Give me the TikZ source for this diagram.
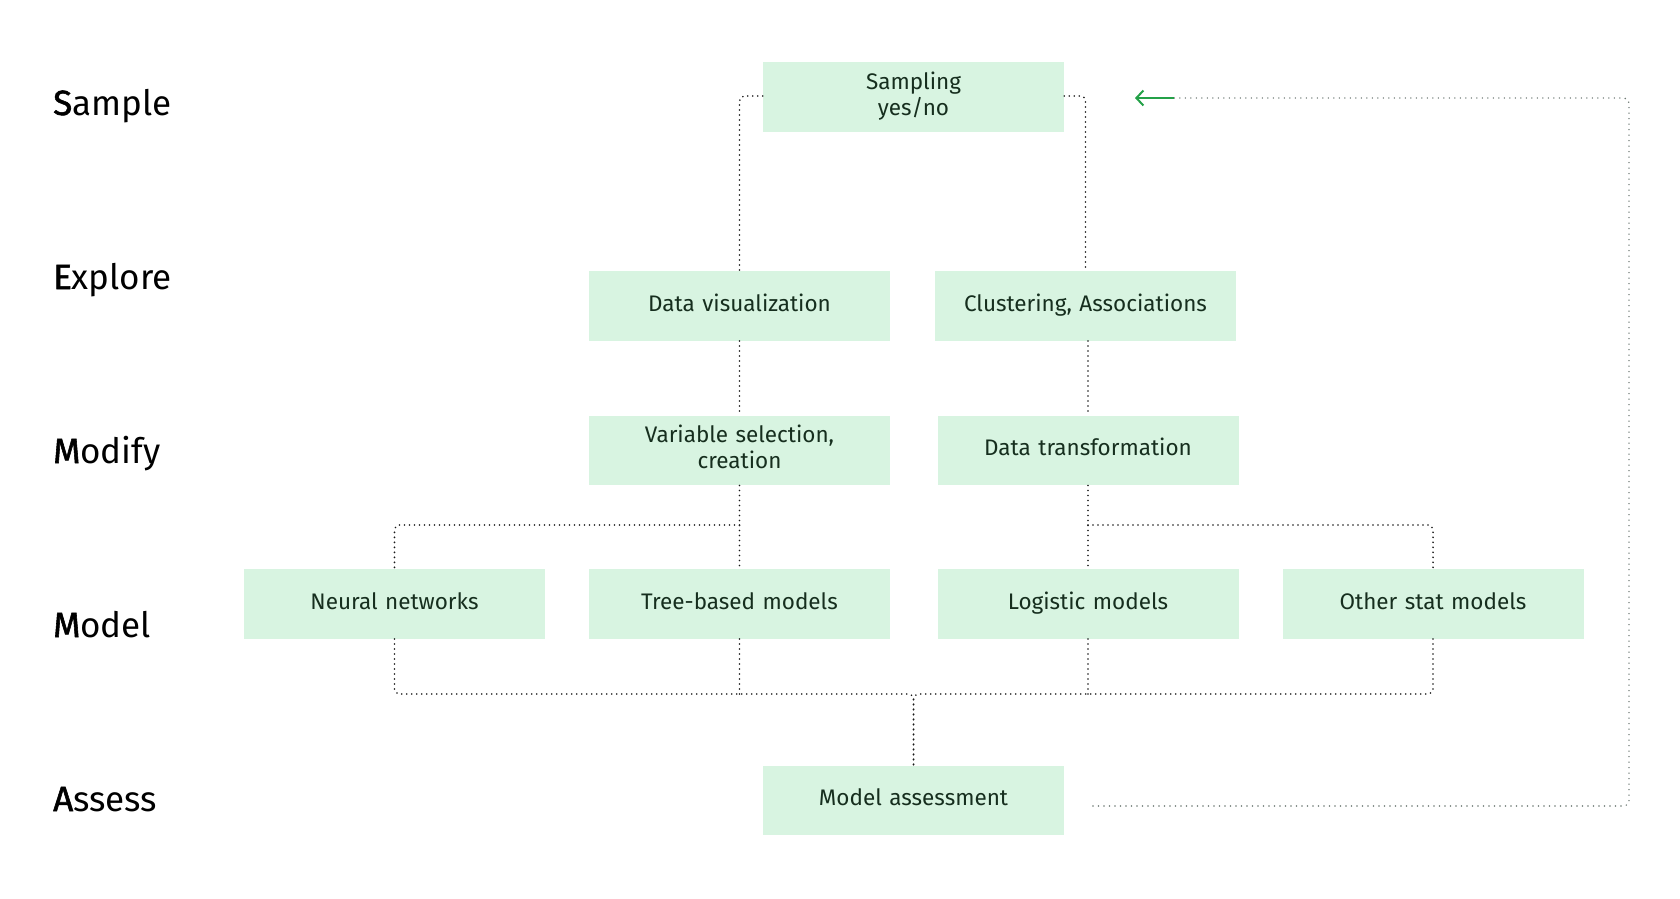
\documentclass[tikz,border=0pt]{standalone}
\usepackage{fontspec}
\setmainfont{Fira Sans}
\newfontfamily\labfirst{Fira Sans}[FakeBold=1.6]
\usetikzlibrary{arrows.meta}
\definecolor{boxfill}{RGB}{216,244,225}
\definecolor{boxtext}{RGB}{22,46,30}
\definecolor{conncol}{RGB}{25,25,25}
\definecolor{fbcol}{RGB}{110,122,116}
\definecolor{arrgreen}{RGB}{36,161,72}
\tikzset{
  stagebox/.style={fill=boxfill, inner sep=0pt, minimum width=301pt, minimum height=69.5pt,
    text width=290pt, align=center, text=boxtext, font=\fontsize{22.5}{26}\selectfont},
  rowlab/.style={anchor=base west, inner sep=0pt, font=\fontsize{35}{40}\selectfont, text=black},
  conn/.style={draw=conncol, line width=1.8pt, line cap=round, dash pattern=on 0pt off 5pt, rounded corners=5pt},
  fbline/.style={draw=fbcol, line width=1.6pt, line cap=round, dash pattern=on 0pt off 5.5pt, rounded corners=5pt},
  greenarr/.style={draw=arrgreen, line width=2pt, -{Straight Barb[length=7pt,width=15pt]}}
}
\begin{document}
\begin{tikzpicture}[x=1pt,y=-1pt]
\useasboundingbox (0,0) rectangle (1680,898);
% row labels
\node[rowlab] (lS) at (53,115) {{\labfirst S}ample};
\node[rowlab] (lE) at (53,289) {{\labfirst E}xplore};
\node[rowlab] (lM1) at (53,463) {{\labfirst M}odify};
\node[rowlab] (lM2) at (53,637) {{\labfirst M}odel};
\node[rowlab] (lA) at (53,811) {{\labfirst A}ssess};
% boxes
\node[stagebox] (samp) at (913.5,97) {\strut Sampling\\\strut yes/no};
\node[stagebox] (dv) at (739.5,306) {\strut Data visualization};
\node[stagebox] (cl) at (1085.5,306) {\strut Clustering, Associations};
\node[stagebox] (vs) at (739.5,450.5) {\strut Variable selection,\\\strut creation};
\node[stagebox] (dt) at (1088,450.5) {\strut Data transformation};
\node[stagebox] (nn) at (394.5,604) {\strut Neural networks};
\node[stagebox] (tb) at (739.5,604) {\strut Tree-based models};
\node[stagebox] (lm) at (1088,604) {\strut Logistic models};
\node[stagebox] (os) at (1433,604) {\strut Other stat models};
\node[stagebox] (ma) at (913.5,800.5) {\strut Model assessment};
% junctions
\coordinate (jvs) at (739.5,525);
\coordinate (jdt) at (1088,525);
\coordinate (jb) at (913.5,694);
\coordinate (fb1) at (1093,806);
\coordinate (fbc) at (1629,98);
\coordinate (arrS) at (1174,98);
\coordinate (arrE) at (1135,98);
% connectors
\draw[conn] ([yshift=1pt]samp.west) -| (dv.north);
\draw[conn] ([yshift=1pt]samp.east) -| (cl.north);
\draw[conn] (dv.south) -- (vs.north);
\draw[conn] (dt.north |- cl.south) -- (dt.north);
\draw[conn] (vs.south) -- (tb.north);
\draw[conn] (jvs) -| (nn.north);
\draw[conn] (dt.south) -- (lm.north);
\draw[conn] (jdt) -| (os.north);
\draw[conn] (nn.south) |- (jb) -- (ma.north);
\draw[conn] (os.south) |- (jb) -- (ma.north);
\draw[conn] (tb.south) -- (tb.south |- jb);
\draw[conn] (lm.south) -- (lm.south |- jb);
% feedback
\draw[fbline] (fb1) -| (fbc) -- (arrS);
\draw[greenarr] (arrS) -- (arrE);
\end{tikzpicture}
\end{document}
